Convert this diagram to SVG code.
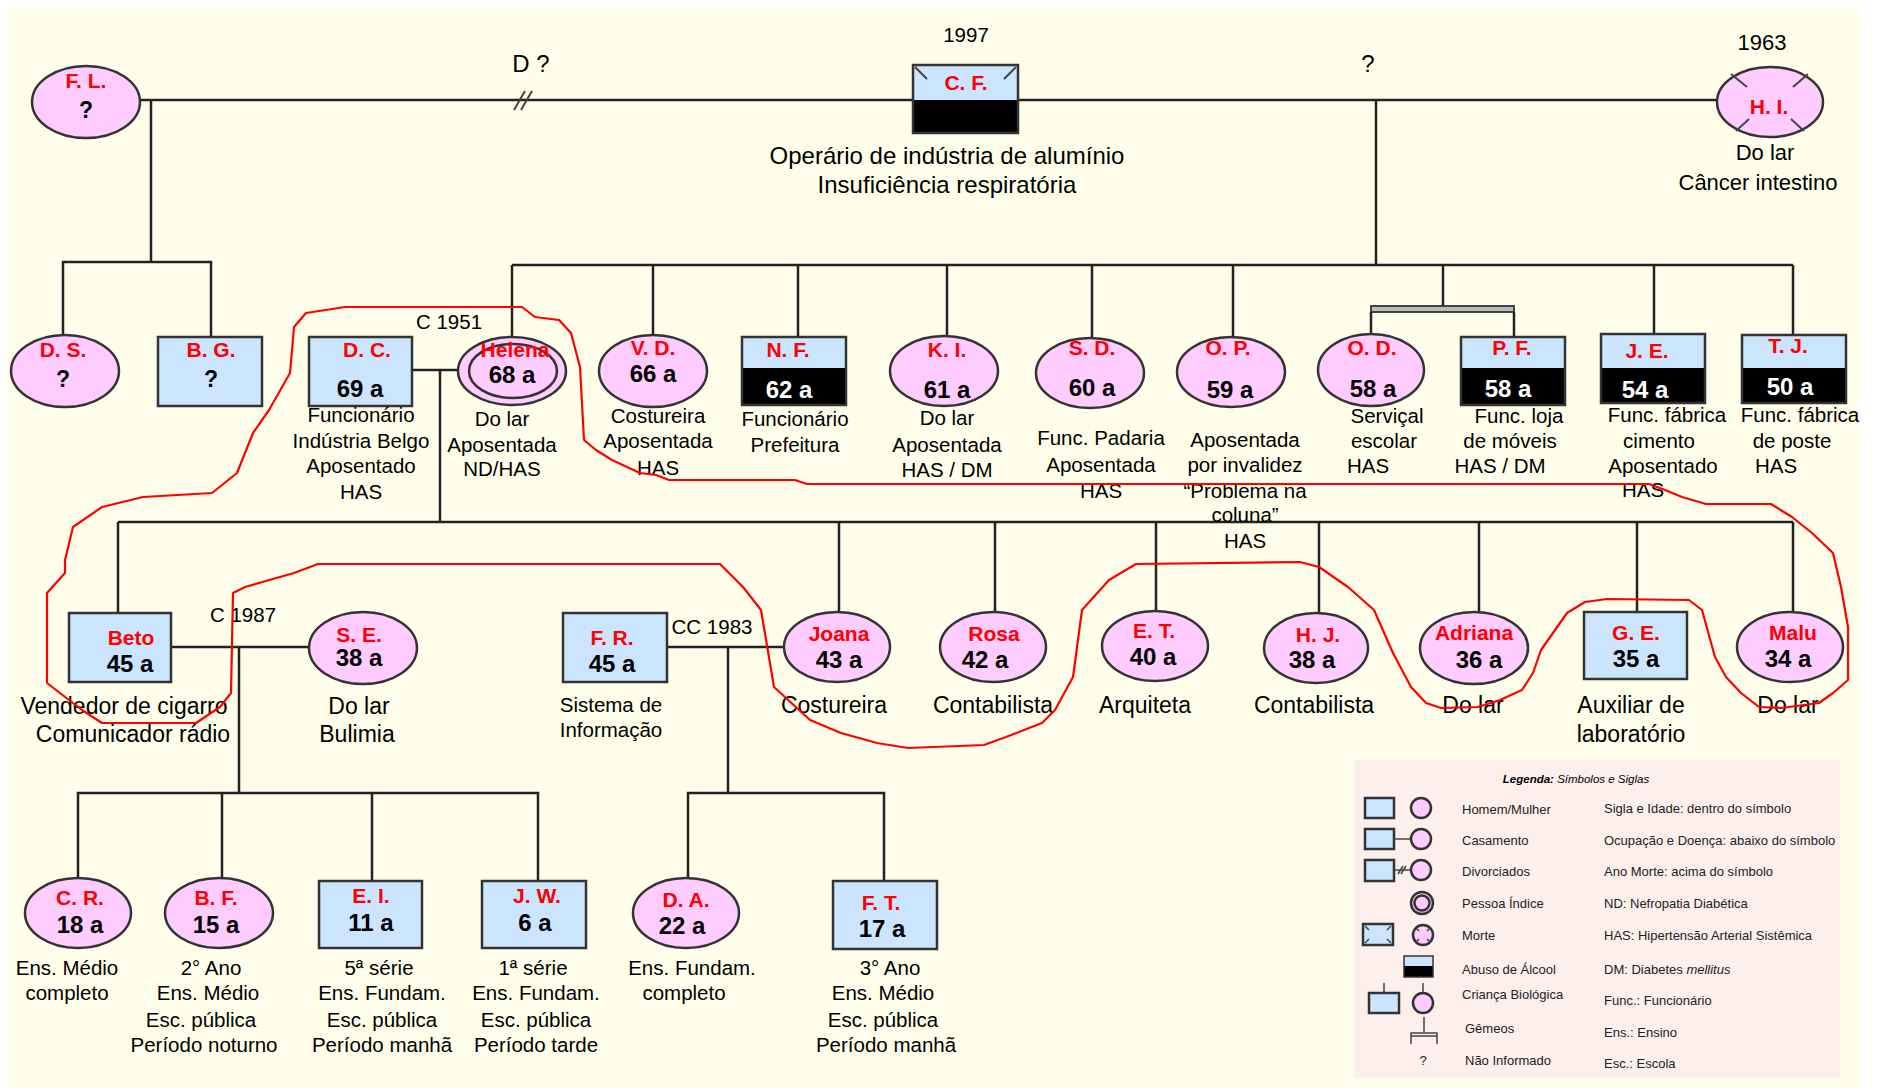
<svg xmlns="http://www.w3.org/2000/svg" width="1881" height="1090" viewBox="0 0 1881 1090">
<style>
.bg{fill:#fffeea}
.ln{stroke:#222;stroke-width:2.5;fill:none}
.fe{fill:#ffccff;stroke:#333;stroke-width:2.5}
.ma{fill:#cce5ff;stroke:#333;stroke-width:2.5}
.top{fill:#cce5ff}
.blk{fill:#000}
.frame{fill:none;stroke:#333;stroke-width:2.5}
.tick{stroke:#444;stroke-width:2;fill:none}
text{font-family:"Liberation Sans",Arial,sans-serif}
.nm{font-weight:bold;font-size:21px;fill:#f00;text-anchor:middle}
.ag{font-weight:bold;font-size:24px;fill:#000;text-anchor:middle}
.wh{fill:#fff}
.q{font-weight:bold;font-size:23px;fill:#000;text-anchor:middle}
.tx{font-size:20.5px;fill:#000;text-anchor:middle}
.t3{font-size:23px}
.t2{font-size:22px}
.t4{font-size:24px}
.lgbox{fill:#fcefec}
.lg{font-size:13px;fill:#222}
.lgs{stroke:#444;stroke-width:1.5;fill:none}
.red{fill:none;stroke:#f00;stroke-width:2.2;stroke-linejoin:round}
</style>
<rect x="0" y="0" width="1881" height="1090" fill="#fff"/>
<rect class="bg" x="7" y="7" width="1852" height="1081"/>

<!-- family connectors -->
<g id="connectors">
  <path class="ln" d="M140,100 H1716"/>
  <path class="tick" d="M514,110 L525,91 M521,110 L532,91"/>
  <path class="ln" d="M151,100 V262 M63,335 V262 H211 V337"/>
  <path class="ln" d="M1376,100 V265 M512,265 H1793"/>
  <path class="ln" d="M512,265 V338 M653,265 V335 M798,265 V337 M947,265 V336 M1092,265 V338 M1233,265 V337 M1443,265 V306 M1654,265 V334 M1793,265 V335"/>
  <rect x="1371" y="306" width="143" height="6" fill="#bbb" stroke="#333" stroke-width="1.8"/>
  <path class="ln" d="M1371,312 V334 M1514,312 V337"/>
  <path class="ln" d="M412,370 H458 M440,370 V522 M118,522 H1793"/>
  <path class="ln" d="M118,522 V613 M839,522 V612 M995,522 V612 M1156,522 V611 M1319,522 V612 M1479,522 V613 M1637,522 V612 M1793,522 V612"/>
  <path class="ln" d="M171,647 H309 M239,647 V793 M78,878 V793 H538 V881 M222,793 V878 M372,793 V881"/>
  <path class="ln" d="M667,647 H784 M728,647 V793 M688,878 V793 H884 V881"/>
</g>

<!-- labels on the marriage lines -->
<g id="couple-labels">
  <text class="tx t4" x="531" y="72">D ?</text>
  <text class="tx t4" x="1368" y="72">?</text>
  <text class="tx" x="449" y="329" font-size="20">C 1951</text>
  <text class="tx" x="243" y="622" font-size="20">C 1987</text>
  <text class="tx" x="712" y="634" font-size="20">CC 1983</text>
</g>

<!-- generation I -->
<g id="FL">
  <ellipse class="fe" cx="86" cy="102" rx="54" ry="36"/>
  <text class="nm" x="86" y="88">F. L.</text>
  <text class="q" x="86" y="118">?</text>
</g>
<g id="CF">
  <rect class="top" x="913" y="65" width="105" height="35"/>
  <rect class="blk" x="913" y="100" width="105" height="33"/>
  <rect class="frame" x="913" y="65" width="105" height="68"/>
  <path class="tick" d="M915,67 L927,79 M1016,67 L1004,79"/>
  <text class="nm" x="966" y="90">C. F.</text>
  <text class="tx" x="966" y="42" font-size="21">1997</text>
  <text class="tx t4" x="947" y="164">Operário de indústria de alumínio</text>
  <text class="tx t4" x="947" y="193">Insuficiência respiratória</text>
</g>
<g id="HI">
  <ellipse class="fe" cx="1770" cy="102" rx="53" ry="35"/>
  <path class="tick" d="M1731,74 L1747,87 M1808,74 L1793,87 M1736,131 L1749,119 M1804,131 L1791,119"/>
  <text class="nm" x="1769" y="114">H. I.</text>
  <text class="tx t2" x="1762" y="50">1963</text>
  <text class="tx t2" x="1765" y="160">Do lar</text>
  <text class="tx t2" x="1758" y="190">Câncer intestino</text>
</g>

<!-- generation II -->
<g id="DS">
  <ellipse class="fe" cx="65" cy="371" rx="54" ry="36"/>
  <text class="nm" x="63" y="357">D. S.</text>
  <text class="q" x="63" y="387">?</text>
</g>
<g id="BG">
  <rect class="ma" x="158" y="337" width="104" height="69"/>
  <text class="nm" x="211" y="357">B. G.</text>
  <text class="q" x="211" y="387">?</text>
</g>
<g id="DC">
  <rect class="ma" x="309" y="337" width="103" height="69"/>
  <text class="nm" x="367" y="357">D. C.</text>
  <text class="ag" x="360" y="397">69 a</text>
  <text class="tx" x="361" y="422">Funcionário</text>
  <text class="tx" x="361" y="448">Indústria Belgo</text>
  <text class="tx" x="361" y="473">Aposentado</text>
  <text class="tx" x="361" y="499">HAS</text>
</g>
<g id="Helena">
  <ellipse class="fe" cx="512" cy="371" rx="54" ry="34"/>
  <ellipse class="fe" cx="513" cy="371" rx="44" ry="27"/>
  <text class="nm" x="515" y="357">Helena</text>
  <text class="ag" x="512" y="383">68 a</text>
  <text class="tx" x="502" y="426">Do lar</text>
  <text class="tx" x="502" y="452">Aposentada</text>
  <text class="tx" x="502" y="476">ND/HAS</text>
</g>
<g id="VD">
  <ellipse class="fe" cx="653" cy="371" rx="54" ry="36"/>
  <text class="nm" x="653" y="355">V. D.</text>
  <text class="ag" x="653" y="382">66 a</text>
  <text class="tx" x="658" y="423">Costureira</text>
  <text class="tx" x="658" y="448">Aposentada</text>
  <text class="tx" x="658" y="475">HAS</text>
</g>
<g id="NF">
  <rect class="top" x="742" y="337" width="104" height="31"/>
  <rect class="blk" x="742" y="368" width="104" height="37"/>
  <rect class="frame" x="742" y="337" width="104" height="68"/>
  <text class="nm" x="788" y="357">N. F.</text>
  <text class="ag wh" x="789" y="398">62 a</text>
  <text class="tx" x="795" y="426">Funcionário</text>
  <text class="tx" x="795" y="452">Prefeitura</text>
</g>
<g id="KI">
  <ellipse class="fe" cx="944" cy="371" rx="54" ry="35"/>
  <text class="nm" x="947" y="357">K. I.</text>
  <text class="ag" x="947" y="398">61 a</text>
  <text class="tx" x="947" y="425">Do lar</text>
  <text class="tx" x="947" y="452">Aposentada</text>
  <text class="tx" x="947" y="477">HAS / DM</text>
</g>
<g id="SD">
  <ellipse class="fe" cx="1090" cy="373" rx="54" ry="35"/>
  <text class="nm" x="1092" y="355">S. D.</text>
  <text class="ag" x="1092" y="396">60 a</text>
  <text class="tx" x="1101" y="445">Func. Padaria</text>
  <text class="tx" x="1101" y="472">Aposentada</text>
  <text class="tx" x="1101" y="498">HAS</text>
</g>
<g id="OP">
  <ellipse class="fe" cx="1231" cy="372" rx="54" ry="35"/>
  <text class="nm" x="1228" y="355">O. P.</text>
  <text class="ag" x="1230" y="398">59 a</text>
  <text class="tx" x="1245" y="447">Aposentada</text>
  <text class="tx" x="1245" y="472">por invalidez</text>
  <text class="tx" x="1245" y="498">“Problema na</text>
  <text class="tx" x="1245" y="522">coluna”</text>
  <text class="tx" x="1245" y="548">HAS</text>
</g>
<g id="OD">
  <ellipse class="fe" cx="1371" cy="370" rx="53" ry="36"/>
  <text class="nm" x="1372" y="355">O. D.</text>
  <text class="ag" x="1373" y="397">58 a</text>
  <text class="tx" x="1387" y="423">Serviçal</text>
  <text class="tx" x="1384" y="448">escolar</text>
  <text class="tx" x="1368" y="473">HAS</text>
</g>
<g id="PF">
  <rect class="top" x="1461" y="337" width="104" height="31"/>
  <rect class="blk" x="1461" y="368" width="104" height="37"/>
  <rect class="frame" x="1461" y="337" width="104" height="68"/>
  <text class="nm" x="1512" y="355">P. F.</text>
  <text class="ag wh" x="1508" y="397">58 a</text>
  <text class="tx" x="1519" y="423">Func. loja</text>
  <text class="tx" x="1510" y="448">de móveis</text>
  <text class="tx" x="1500" y="473">HAS / DM</text>
</g>
<g id="JE">
  <rect class="top" x="1601" y="334" width="104" height="34"/>
  <rect class="blk" x="1601" y="368" width="104" height="35"/>
  <rect class="frame" x="1601" y="334" width="104" height="69"/>
  <text class="nm" x="1647" y="358">J. E.</text>
  <text class="ag wh" x="1645" y="398">54 a</text>
  <text class="tx" x="1667" y="422">Func. fábrica</text>
  <text class="tx" x="1659" y="448">cimento</text>
  <text class="tx" x="1663" y="473">Aposentado</text>
  <text class="tx" x="1643" y="497">HAS</text>
</g>
<g id="TJ">
  <rect class="top" x="1742" y="335" width="104" height="33"/>
  <rect class="blk" x="1742" y="368" width="104" height="35"/>
  <rect class="frame" x="1742" y="335" width="104" height="68"/>
  <text class="nm" x="1788" y="353">T. J.</text>
  <text class="ag wh" x="1790" y="395">50 a</text>
  <text class="tx" x="1800" y="422">Func. fábrica</text>
  <text class="tx" x="1792" y="448">de poste</text>
  <text class="tx" x="1776" y="473">HAS</text>
</g>

<!-- generation III -->
<g id="Beto">
  <rect class="ma" x="69" y="613" width="102" height="69"/>
  <text class="nm" x="131" y="645">Beto</text>
  <text class="ag" x="130" y="672">45 a</text>
  <text class="tx t3" x="124" y="714">Vendedor de cigarro</text>
  <text class="tx t3" x="133" y="742">Comunicador rádio</text>
</g>
<g id="SE">
  <ellipse class="fe" cx="363" cy="648" rx="54" ry="36"/>
  <text class="nm" x="359" y="642">S. E.</text>
  <text class="ag" x="359" y="666">38 a</text>
  <text class="tx t3" x="359" y="714">Do lar</text>
  <text class="tx t3" x="357" y="742">Bulimia</text>
</g>
<g id="FR">
  <rect class="ma" x="563" y="613" width="104" height="69"/>
  <text class="nm" x="612" y="645">F. R.</text>
  <text class="ag" x="612" y="672">45 a</text>
  <text class="tx" x="611" y="712">Sistema de</text>
  <text class="tx" x="611" y="737">Informação</text>
</g>
<g id="Joana">
  <ellipse class="fe" cx="837" cy="647" rx="53" ry="35"/>
  <text class="nm" x="839" y="641">Joana</text>
  <text class="ag" x="839" y="668">43 a</text>
  <text class="tx t3" x="834" y="713">Costureira</text>
</g>
<g id="Rosa">
  <ellipse class="fe" cx="993" cy="647" rx="53" ry="35"/>
  <text class="nm" x="994" y="641">Rosa</text>
  <text class="ag" x="985" y="668">42 a</text>
  <text class="tx t3" x="993" y="713">Contabilista</text>
</g>
<g id="ET">
  <ellipse class="fe" cx="1155" cy="646" rx="53" ry="35"/>
  <text class="nm" x="1154" y="638">E. T.</text>
  <text class="ag" x="1153" y="665">40 a</text>
  <text class="tx t3" x="1145" y="713">Arquiteta</text>
</g>
<g id="HJ">
  <ellipse class="fe" cx="1316" cy="648" rx="52" ry="35"/>
  <text class="nm" x="1318" y="642">H. J.</text>
  <text class="ag" x="1312" y="668">38 a</text>
  <text class="tx t3" x="1314" y="713">Contabilista</text>
</g>
<g id="Adriana">
  <ellipse class="fe" cx="1474" cy="648" rx="54" ry="36"/>
  <text class="nm" x="1474" y="640">Adriana</text>
  <text class="ag" x="1479" y="668">36 a</text>
  <text class="tx t3" x="1473" y="713">Do lar</text>
</g>
<g id="GE">
  <rect class="ma" x="1584" y="612" width="103" height="67"/>
  <text class="nm" x="1636" y="640">G. E.</text>
  <text class="ag" x="1636" y="667">35 a</text>
  <text class="tx t3" x="1631" y="713">Auxiliar de</text>
  <text class="tx t3" x="1631" y="742">laboratório</text>
</g>
<g id="Malu">
  <ellipse class="fe" cx="1790" cy="647" rx="53" ry="35"/>
  <text class="nm" x="1793" y="640">Malu</text>
  <text class="ag" x="1788" y="667">34 a</text>
  <text class="tx t3" x="1788" y="713">Do lar</text>
</g>

<!-- generation IV -->
<g id="CR">
  <ellipse class="fe" cx="78" cy="913" rx="53" ry="35"/>
  <text class="nm" x="80" y="905">C. R.</text>
  <text class="ag" x="80" y="933">18 a</text>
  <text class="tx" x="67" y="975">Ens. Médio</text>
  <text class="tx" x="67" y="1000">completo</text>
</g>
<g id="BF">
  <ellipse class="fe" cx="219" cy="913" rx="54" ry="35"/>
  <text class="nm" x="216" y="905">B. F.</text>
  <text class="ag" x="216" y="933">15 a</text>
  <text class="tx" x="211" y="975">2° Ano</text>
  <text class="tx" x="208" y="1000">Ens. Médio</text>
  <text class="tx" x="201" y="1027">Esc. pública</text>
  <text class="tx" x="204" y="1052">Período noturno</text>
</g>
<g id="EI">
  <rect class="ma" x="319" y="881" width="103" height="67"/>
  <text class="nm" x="371" y="903">E. I.</text>
  <text class="ag" x="371" y="931">11 a</text>
  <text class="tx" x="379" y="975">5ª série</text>
  <text class="tx" x="382" y="1000">Ens. Fundam.</text>
  <text class="tx" x="382" y="1027">Esc. pública</text>
  <text class="tx" x="382" y="1052">Período manhã</text>
</g>
<g id="JW">
  <rect class="ma" x="482" y="881" width="104" height="67"/>
  <text class="nm" x="537" y="903">J. W.</text>
  <text class="ag" x="535" y="931">6 a</text>
  <text class="tx" x="533" y="975">1ª série</text>
  <text class="tx" x="536" y="1000">Ens. Fundam.</text>
  <text class="tx" x="536" y="1027">Esc. pública</text>
  <text class="tx" x="536" y="1052">Período tarde</text>
</g>
<g id="DA">
  <ellipse class="fe" cx="686" cy="913" rx="53" ry="35"/>
  <text class="nm" x="686" y="907">D. A.</text>
  <text class="ag" x="682" y="934">22 a</text>
  <text class="tx" x="692" y="975">Ens. Fundam.</text>
  <text class="tx" x="684" y="1000">completo</text>
</g>
<g id="FT">
  <rect class="ma" x="833" y="881" width="104" height="68"/>
  <text class="nm" x="881" y="910">F. T.</text>
  <text class="ag" x="882" y="937">17 a</text>
  <text class="tx" x="890" y="975">3° Ano</text>
  <text class="tx" x="883" y="1000">Ens. Médio</text>
  <text class="tx" x="883" y="1027">Esc. pública</text>
  <text class="tx" x="886" y="1052">Período manhã</text>
</g>

<!-- freehand outline around Helena's household -->
<g id="outline">
  <path class="red" d="M345,307 L522,307 L535,317 L559,320 L571,333 L580,367 L584,440 L596,450 L612,460 L640,473 L656,475 L669,480 L795,480 L807,484 L1649,484 L1665,490 L1682,497 L1706,504 L1771,504 L1792,517 L1812,533 L1833,553 L1841,587 L1848,627 L1848,680 L1833,693 L1819,703 L1781,708 L1759,707 L1741,693 L1726,677 L1715,657 L1702,610 L1689,600 L1607,599 L1585,602 L1567,613 L1541,650 L1533,673 L1522,690 L1500,700 L1478,707 L1441,708 L1426,703 L1411,687 L1393,653 L1374,610 L1348,587 L1319,567 L1300,562 L1136,564 L1109,580 L1082,610 L1073,677 L1055,710 L1042,723 L1006,737 L984,745 L908,748 L877,743 L841,733 L810,720 L774,687 L761,610 L743,587 L720,564 L318,564 L294,573 L245,587 L233,593 L231,693 L220,707 L196,723 L102,723 L82,710 L47,683 L47,593 L65,573 L65,560 L73,527 L102,507 L143,497 L212,493 L237,473 L253,433 L269,410 L290,373 L294,327 L306,313 Z"/>
</g>

<!-- legend -->
<g id="legend">
  <rect class="lgbox" x="1354" y="760" width="486" height="318"/>
  <text x="1576" y="783" text-anchor="middle" font-family="'Liberation Serif',serif" font-size="11.5" font-style="italic"><tspan font-weight="bold">Legenda:</tspan> Símbolos e Siglas</text>
  <rect class="ma" x="1365" y="798" width="29" height="20" stroke-width="1.5"/>
  <ellipse class="fe" cx="1421" cy="808" rx="10" ry="10" stroke-width="1.5"/>
  <rect class="ma" x="1365" y="829" width="29" height="20" stroke-width="1.5"/>
  <path class="lgs" d="M1394,839 H1411"/>
  <ellipse class="fe" cx="1421" cy="839" rx="10" ry="10" stroke-width="1.5"/>
  <rect class="ma" x="1365" y="860" width="29" height="21" stroke-width="1.5"/>
  <path class="lgs" d="M1394,870 H1411 M1398,874 L1403,866 M1401,874 L1406,866"/>
  <ellipse class="fe" cx="1421" cy="870" rx="10" ry="10" stroke-width="1.5"/>
  <ellipse class="fe" cx="1422" cy="903" rx="11" ry="11" stroke-width="1.5"/>
  <ellipse class="fe" cx="1422" cy="903" rx="7.5" ry="7.5" stroke-width="1.5"/>
  <rect class="ma" x="1363" y="924" width="30" height="21" stroke-width="1.5"/>
  <path class="lgs" d="M1365,926 L1369,930 M1391,926 L1387,930 M1365,943 L1369,939 M1391,943 L1387,939"/>
  <ellipse class="fe" cx="1423" cy="935" rx="10" ry="10" stroke-width="1.5"/>
  <path class="lgs" d="M1416,928 L1419,931 M1430,928 L1427,931 M1416,942 L1419,939 M1430,942 L1427,939"/>
  <rect class="top" x="1404" y="956" width="29" height="10"/>
  <rect class="blk" x="1404" y="966" width="29" height="11"/>
  <rect x="1404" y="956" width="29" height="21" fill="none" stroke="#333" stroke-width="1.5"/>
  <path class="lgs" d="M1384,983 V993 M1423,983 V993"/>
  <rect class="ma" x="1369" y="993" width="30" height="20" stroke-width="1.5"/>
  <ellipse class="fe" cx="1423" cy="1003" rx="10" ry="10" stroke-width="1.5"/>
  <path class="lgs" d="M1424,1017 V1033 M1411,1044 V1033 H1437 V1044 M1411,1036 H1437"/>
  <text class="lg" x="1423" y="1065" text-anchor="middle" font-size="11">?</text>
  <text class="lg" x="1462" y="814">Homem/Mulher</text>
  <text class="lg" x="1462" y="845">Casamento</text>
  <text class="lg" x="1462" y="876">Divorciados</text>
  <text class="lg" x="1462" y="908">Pessoa Índice</text>
  <text class="lg" x="1462" y="940">Morte</text>
  <text class="lg" x="1462" y="974">Abuso de Álcool</text>
  <text class="lg" x="1462" y="999">Criança Biológica</text>
  <text class="lg" x="1465" y="1033">Gêmeos</text>
  <text class="lg" x="1465" y="1065">Não Informado</text>
  <text class="lg" x="1604" y="813">Sigla e Idade: dentro do símbolo</text>
  <text class="lg" x="1604" y="845">Ocupação e Doença: abaixo do símbolo</text>
  <text class="lg" x="1604" y="876">Ano Morte: acima do símbolo</text>
  <text class="lg" x="1604" y="908">ND: Nefropatia Diabética</text>
  <text class="lg" x="1604" y="940">HAS: Hipertensão Arterial Sistêmica</text>
  <text class="lg" x="1604" y="974">DM: Diabetes <tspan font-style="italic">mellitus</tspan></text>
  <text class="lg" x="1604" y="1005">Func.: Funcionário</text>
  <text class="lg" x="1604" y="1037">Ens.: Ensino</text>
  <text class="lg" x="1604" y="1068">Esc.: Escola</text>
</g>
</svg>
